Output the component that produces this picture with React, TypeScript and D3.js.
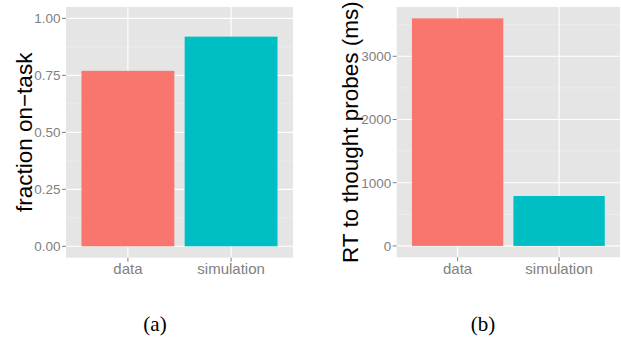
import React from "react";
import * as d3 from "d3";

const categories = ["data", "simulation"];
const fractionOnTask = [0.77, 0.92];
const rtToProbes = [3600, 790];
const fractionTicks = [0, 0.25, 0.5, 0.75, 1.0];
const rtTicks = [0, 1000, 2000, 3000];
const captions = ["(a)", "(b)"];
const barColors = ["#F8766D", "#00BFC4"];

type PanelProps = {
  x0: number;
  x1: number;
  y0: number;
  y1: number;
  values: number[];
  ticks: number[];
  domainMax: number;
  fmt: (v: number) => string;
  label: string;
  labelX: number;
};

function Panel({ x0, x1, y0, y1, values, ticks, domainMax, fmt, label, labelX }: PanelProps) {
  const expand = domainMax * 0.05;
  const y = d3.scaleLinear().domain([-expand, domainMax + expand]).range([y1, y0]);
  const x = d3
    .scaleBand<string>()
    .domain(categories)
    .range([x0, x1])
    .paddingInner(0.1)
    .paddingOuter(0.15);
  const step = ticks[1] - ticks[0];
  const minor: number[] = [];
  for (let v = ticks[0] - step / 2; v <= domainMax + expand; v += step) {
    if (v >= -expand && !ticks.some((t) => Math.abs(t - v) < 1e-9)) minor.push(v);
  }
  const grey = "#7F7F7F";
  return (
    <g>
      <rect x={x0} y={y0} width={x1 - x0} height={y1 - y0} fill="#E5E5E5" />
      {minor.map((v) => (
        <line key={"mn" + v} x1={x0} x2={x1} y1={y(v)} y2={y(v)} stroke="#F2F2F2" strokeWidth={0.6} />
      ))}
      {ticks.map((v) => (
        <line key={"mj" + v} x1={x0} x2={x1} y1={y(v)} y2={y(v)} stroke="#FFFFFF" strokeWidth={1.1} />
      ))}
      {categories.map((c) => {
        const cx = (x(c) as number) + x.bandwidth() / 2;
        return <line key={"vx" + c} x1={cx} x2={cx} y1={y0} y2={y1} stroke="#FFFFFF" strokeWidth={1.1} />;
      })}
      {categories.map((c, i) => (
        <rect
          key={"b" + c}
          x={x(c)}
          width={x.bandwidth()}
          y={y(values[i])}
          height={y(0) - y(values[i])}
          fill={barColors[i]}
        />
      ))}
      {ticks.map((v) => (
        <g key={"t" + v}>
          <line x1={x0 - 4} x2={x0} y1={y(v)} y2={y(v)} stroke={grey} strokeWidth={1} />
          <text
            x={x0 - 5.5}
            y={y(v)}
            dy="0.36em"
            textAnchor="end"
            fontSize={13.5}
            fill={grey}
            fontFamily="'Liberation Sans', Arial, sans-serif"
          >
            {fmt(v)}
          </text>
        </g>
      ))}
      {categories.map((c) => {
        const cx = (x(c) as number) + x.bandwidth() / 2;
        return (
          <g key={"xt" + c}>
            <line x1={cx} x2={cx} y1={y1} y2={y1 + 4} stroke={grey} strokeWidth={1} />
            <text
              x={cx}
              y={274}
              textAnchor="middle"
              fontSize={15}
              fill={grey}
              fontFamily="'Liberation Sans', Arial, sans-serif"
            >
              {c}
            </text>
          </g>
        );
      })}
      <text
        transform={`translate(${labelX},${(y0 + y1) / 2}) rotate(-90)`}
        textAnchor="middle"
        fontSize={22.5}
        fill="#000"
        fontFamily="'Liberation Sans', Arial, sans-serif"
      >
        {label}
      </text>
    </g>
  );
}

export default function App() {
  return (
    <svg
      width={621}
      height={343}
      style={{ position: "absolute", left: 0, top: 0, background: "#fff" }}
    >
      <rect width={621} height={343} fill="#fff" />
      <Panel
        x0={66}
        x1={293}
        y0={7}
        y1={257.7}
        values={fractionOnTask}
        ticks={fractionTicks}
        domainMax={1}
        fmt={d3.format(".2f")}
        label="fraction on−task"
        labelX={32}
      />
      <Panel
        x0={396.7}
        x1={620}
        y0={7}
        y1={257.3}
        values={rtToProbes}
        ticks={rtTicks}
        domainMax={3600}
        fmt={d3.format("d")}
        label="RT to thought probes (ms)"
        labelX={358}
      />
      <text x={155} y={331} textAnchor="middle" fontSize={21} fontFamily="'Liberation Serif', 'Times New Roman', serif">
        {captions[0]}
      </text>
      <text x={483} y={331} textAnchor="middle" fontSize={21} fontFamily="'Liberation Serif', 'Times New Roman', serif">
        {captions[1]}
      </text>
    </svg>
  );
}
